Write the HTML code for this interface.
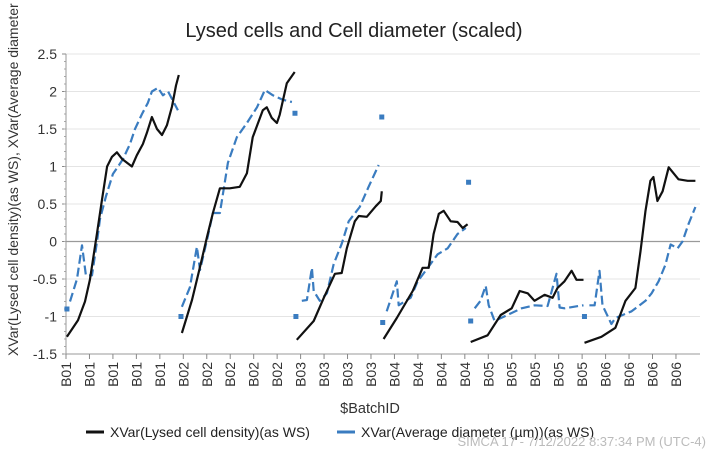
<!DOCTYPE html>
<html><head><meta charset="utf-8"><style>
html,body{margin:0;padding:0;background:#fff;}
svg{display:block;font-family:"Liberation Sans","DejaVu Sans",sans-serif;}
</style></head><body>
<svg id="chart" width="709" height="450" viewBox="0 0 709 450">
<text x="354" y="37" font-size="20" text-anchor="middle" fill="#222">Lysed cells and Cell diameter (scaled)</text>
<text transform="translate(18,356) rotate(-90)" font-size="14" text-anchor="start" fill="#333">XVar(Lysed cell density)(as WS),  XVar(Average diameter (µm))(as WS)</text>
<g id="grid"></g><g id="axes"></g><g id="series"></g>
<text x="370" y="413" font-size="14.5" text-anchor="middle" fill="#333">$BatchID</text>
<g>
<g><line x1="86" y1="432" x2="104" y2="432" stroke="#111" stroke-width="3"/><text x="110" y="437" font-size="14" fill="#222">XVar(Lysed cell density)(as WS)</text></g>
<g><line x1="337" y1="432" x2="355" y2="432" stroke="#3a7cc0" stroke-width="3"/><text x="361" y="437" font-size="14" fill="#222">XVar(Average diameter (µm))(as WS)</text></g>
</g>
<text x="706" y="446" font-size="13" text-anchor="end" fill="#bbb">SIMCA 17 - 7/12/2022 8:37:34 PM (UTC-4)</text>
</svg>
<script>
const tickLabels=["B01","B01","B01","B01","B01","B02","B02","B02","B02","B02","B03","B03","B03","B03","B04","B04","B04","B04","B05","B05","B05","B05","B05","B06","B06","B06","B06"];
const yTicks=[-1.5,-1,-0.5,0,0.5,1,1.5,2,2.5];
const lysedX=[0.4,5.1,8.1,10.2,13.2,15.3,17.5,19.6,21.7,23.9,26.0,28.1,30.2,32.8,34.5,36.6,38.8,40.9,43.0,45.2,46.9,48.1,null,
49.4,53.7,57.1,60.1,62.6,65.6,69.8,74.1,77.1,79.6,83.9,85.6,87.7,89.9,91.1,94.1,97.5,null,
98.4,105.6,109.9,114.6,117.5,119.7,123.1,124.8,128.2,132.0,134.2,134.6,null,
135.4,141.0,147.8,152.0,154.6,156.7,158.9,161.0,164.0,166.9,169.1,171.2,null,
172.5,179.7,185.3,190.0,193.4,196.8,199.7,204.0,207.4,209.5,212.5,215.5,217.6,220.6,null,
221.0,228.2,234.2,238.5,242.7,244.9,247.0,249.1,250.4,252.1,254.3,256.9,261.1,265.0,268.3];
const lysedY=[-1.27,-1.05,-0.8,-0.51,0.11,0.55,1.0,1.13,1.19,1.1,1.05,1.0,1.15,1.3,1.45,1.66,1.5,1.42,1.55,1.8,2.08,2.22,null,
-1.22,-0.78,-0.34,0.06,0.38,0.71,0.71,0.73,0.91,1.39,1.75,1.79,1.65,1.58,1.69,2.11,2.26,null,
-1.31,-1.06,-0.75,-0.43,-0.42,-0.09,0.27,0.34,0.33,0.47,0.54,0.67,null,
-1.30,-1.02,-0.66,-0.35,-0.35,0.10,0.37,0.41,0.27,0.26,0.18,0.23,null,
-1.34,-1.25,-0.98,-0.89,-0.66,-0.69,-0.79,-0.71,-0.75,-0.62,-0.53,-0.39,-0.51,-0.51,null,
-1.35,-1.27,-1.15,-0.79,-0.62,-0.13,0.41,0.81,0.86,0.54,0.67,0.99,0.83,0.81,0.81];
const diamX=[1.7,4.7,6.8,8.5,11.1,13.2,14.5,17.0,20.0,22.2,24.3,27.3,29.4,32.4,34.9,36.6,39.2,41.3,43.5,45.2,47.7,null,
49.4,52.8,55.8,57.1,60.1,62.6,65.6,69.0,72.8,77.1,81.4,84.8,88.2,92.4,96.3,null,
100.5,102.7,104.8,105.6,108.2,111.2,114.1,117.5,120.5,125.2,129.0,133.3,null,
136.7,141.0,141.8,146.9,149.9,154.2,158.4,162.7,166.9,170.4,null,
174.2,176.7,178.9,180.2,182.7,188.2,194.2,199.7,205.3,209.1,210.4,212.5,218.5,220.6,null,
223.1,225.3,227.4,228.7,232.5,234.2,241.1,247.0,249.6,252.6,255.5,257.7,260.7,262.8,265.3,268.3];
const diamY=[-0.8,-0.5,-0.05,-0.45,-0.45,0.0,0.3,0.6,0.9,1.0,1.1,1.3,1.5,1.7,1.85,2.0,2.05,1.95,2.0,1.9,1.75,null,
-0.87,-0.61,-0.07,-0.38,0.02,0.38,0.38,1.05,1.39,1.58,1.79,2.02,1.95,1.89,1.86,null,
-0.79,-0.78,-0.35,-0.66,-0.79,-0.69,-0.30,-0.03,0.27,0.46,0.73,1.02,null,
-0.93,-0.53,-0.85,-0.75,-0.53,-0.35,-0.17,-0.09,0.10,0.18,null,
-0.89,-0.79,-0.59,-0.85,-1.06,-0.98,-0.89,-0.85,-0.86,-0.43,-0.88,-0.89,-0.86,-0.85,null,
-0.85,-0.85,-0.39,-0.85,-1.1,-1.02,-0.93,-0.79,-0.69,-0.53,-0.31,-0.04,-0.09,0.0,0.23,0.46];
const markX=[0.4,49.0,97.6,98.0,134.6,135.0,171.6,172.5,221.0];
const markY=[-0.9,-1.0,1.71,-1.0,1.66,-1.08,0.79,-1.06,-1.0];

const NS="http://www.w3.org/2000/svg";
const X0=66,XS=2.346,Y0=241.5,YS=75,XR=700;
const sx=v=>X0+v*XS, sy=v=>Y0-v*YS;
function mk(tag,attrs,parent){const e=document.createElementNS(NS,tag);for(const k in attrs)e.setAttribute(k,attrs[k]);parent.appendChild(e);return e;}
const grid=document.getElementById('grid'),axes=document.getElementById('axes'),ser=document.getElementById('series');
yTicks.forEach(t=>{
  const y=sy(t);
  if(t>-1.5){const g=mk('line',{x1:X0,x2:XR,y1:y,y2:y,stroke:t===0?'#9a9a9a':'#e4e4e4','stroke-width':t===0?1.3:1},grid);
  
  }
  mk('line',{x1:X0-4,x2:X0,y1:y,y2:y,stroke:'#888'},axes);
  const tx=mk('text',{x:X0-9,y:y+5,'font-size':14,'text-anchor':'end',fill:'#333'},axes);
  tx.textContent=String(t);
  
  
});
for(let t=-1.5;t<2.5;t+=0.1){mk('line',{x1:X0-2,x2:X0,y1:sy(t),y2:sy(t),stroke:'#aaa'},axes);}
const ya=mk('line',{x1:X0,x2:X0,y1:sy(2.5),y2:sy(-1.5),stroke:'#999'},axes);


const xa=mk('line',{x1:X0,x2:XR,y1:sy(-1.5),y2:sy(-1.5),stroke:'#999'},axes);


tickLabels.forEach((l,i)=>{
  const x=sx(i*10);
  mk('line',{x1:x,x2:x,y1:sy(-1.5),y2:sy(-1.5)+5,stroke:'#888'},axes);
  const tx=mk('text',{transform:`translate(${x+5},${sy(-1.5)+8}) rotate(-90)`,'font-size':14,'text-anchor':'end',fill:'#333'},axes);
  tx.textContent=l;
  
  
});
function pathFrom(xs,ys){let d='',pen=false;for(let i=0;i<xs.length;i++){if(xs[i]===null){pen=false;continue;}d+=(pen?'L':'M')+sx(xs[i]).toFixed(1)+','+sy(ys[i]).toFixed(1);pen=true;}return d;}
const bp=mk('path',{d:pathFrom(diamX,diamY),fill:'none',stroke:'#3a7cc0','stroke-width':2.2,'stroke-dasharray':'9 4','stroke-linejoin':'round'},ser);


markX.forEach((x,i)=>{const r=mk('rect',{x:sx(x)-2.5,y:sy(markY[i])-2.5,width:5,height:5,fill:'#3a7cc0'},ser);
  
  });
const kp=mk('path',{d:pathFrom(lysedX,lysedY),fill:'none',stroke:'#111','stroke-width':2.2,'stroke-linejoin':'round'},ser);


</script>
</body></html>
